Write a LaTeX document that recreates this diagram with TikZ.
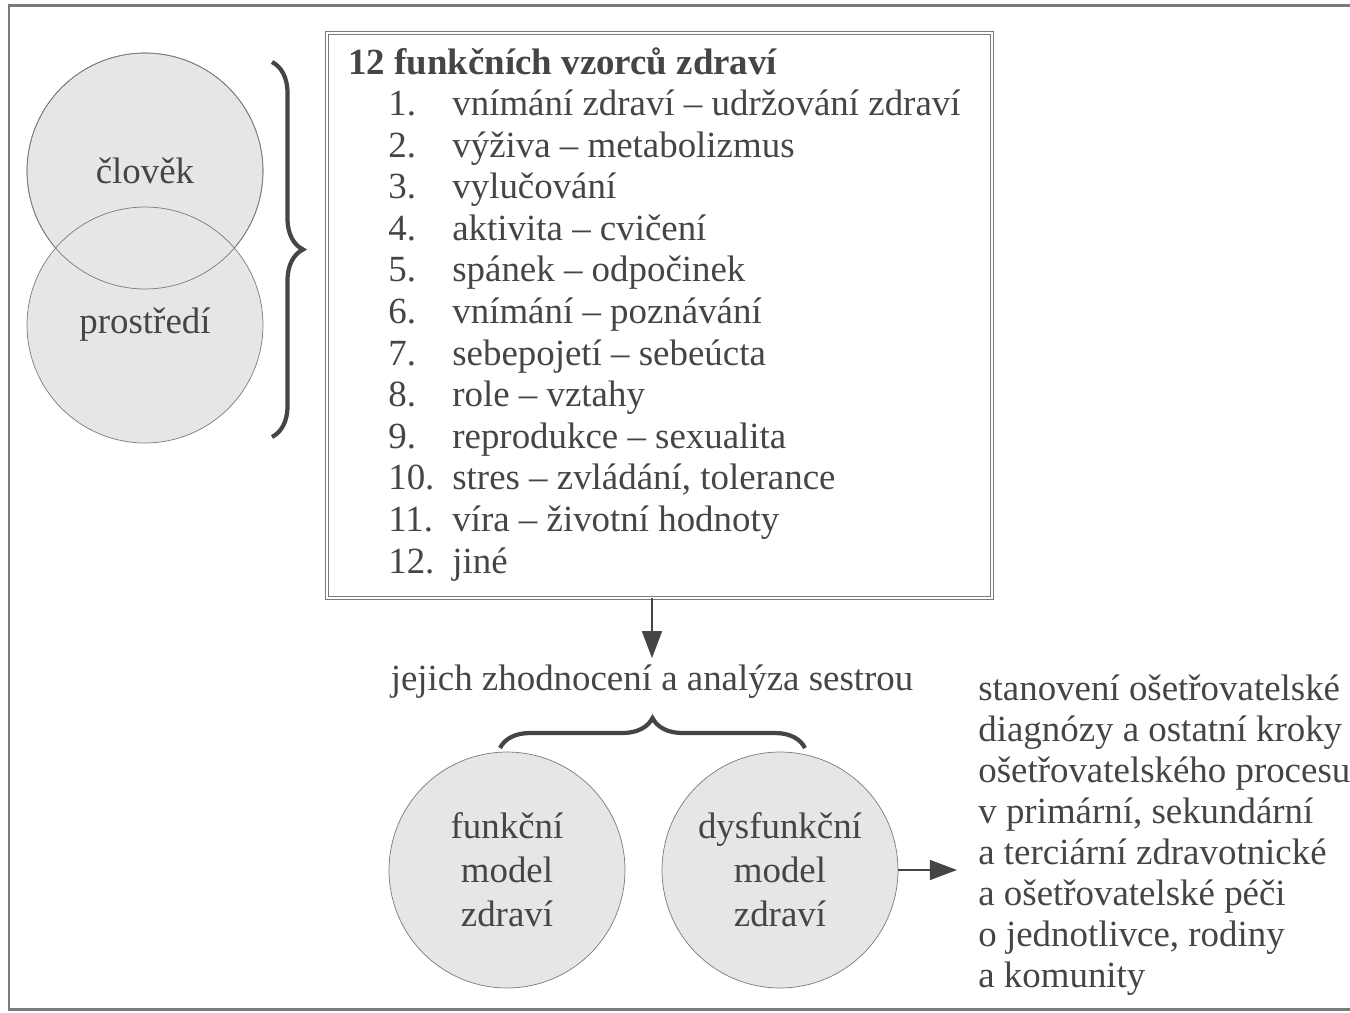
\documentclass[tikz,border=0pt]{standalone}
\usepackage{fontspec}
\setmainfont{Liberation Serif}
\usetikzlibrary{arrows.meta,decorations.pathreplacing,positioning}
\definecolor{inkgray}{HTML}{454545}
\definecolor{linegray}{HTML}{7A7A7A}
\definecolor{fillgray}{HTML}{E6E6E6}

\begin{document}
\begin{tikzpicture}[x=0.02cm,y=-0.02cm,
	font=\fontsize{21}{25}\selectfont,text=inkgray,
	kruh/.style={shape=circle,draw=linegray,fill=fillgray,minimum size=4.72cm,inner sep=0pt,align=center},
	cislo/.style={anchor=base west,inner sep=0pt},
	sipka/.style={draw=inkgray,line width=0.8pt,-{Triangle[width=0.4cm,length=0.54cm]}},
	zavorka/.style={draw=inkgray,line width=2.4pt,decorate,decoration={brace,amplitude=#1}}]
	\useasboundingbox (0,0) rectangle (1350,1012);
	% ramecek
	\draw[linegray,line width=1.7pt] (1350,5) -- (9,5) -- (9,1009) -- (1350,1009);
	% clovek a prostredi
			\node (clovek) at(145,171)[kruh]{člověk};
			\node (prostredi) at(145,325)[kruh]{prostředí};
	\draw[linegray] (clovek.center) circle[radius=2.36cm];
	\draw[zavorka=0.62cm] (272,62) -- (272,437);
	% seznam vzorcu
			\node (vzorce) at(659.5,315.5)[draw=linegray,double,double distance=1.5pt,line width=0.5pt,minimum width=13.3cm,minimum height=11.3cm]{};
			\node (nadpis) at(348,74)[cislo,font=\fontsize{21}{25}\selectfont\bfseries]{12 funkčních vzorců zdraví};
			\node (c1) at(388,115)[cislo]{1.};   \node (v1) at(452,115)[cislo]{vnímání zdraví – udržování zdraví};
			\node (c2) at(388,157)[cislo]{2.};   \node (v2) at(452,157)[cislo]{výživa – metabolizmus};
			\node (c3) at(388,198)[cislo]{3.};   \node (v3) at(452,198)[cislo]{vylučování};
			\node (c4) at(388,240)[cislo]{4.};   \node (v4) at(452,240)[cislo]{aktivita – cvičení};
			\node (c5) at(388,281)[cislo]{5.};   \node (v5) at(452,281)[cislo]{spánek – odpočinek};
			\node (c6) at(388,323)[cislo]{6.};   \node (v6) at(452,323)[cislo]{vnímání – poznávání};
			\node (c7) at(388,365)[cislo]{7.};   \node (v7) at(452,365)[cislo]{sebepojetí – sebeúcta};
			\node (c8) at(388,406)[cislo]{8.};   \node (v8) at(452,406)[cislo]{role – vztahy};
			\node (c9) at(388,448)[cislo]{9.};   \node (v9) at(452,448)[cislo]{reprodukce – sexualita};
			\node (c10) at(388,489)[cislo]{10.}; \node (v10) at(452,489)[cislo]{stres – zvládání, tolerance};
			\node (c11) at(388,531)[cislo]{11.}; \node (v11) at(452,531)[cislo]{víra – životní hodnoty};
			\node (c12) at(388,573)[cislo]{12.}; \node (v12) at(452,573)[cislo]{jiné};
	% hodnoceni
			\node (analyza) at(652,690)[anchor=base]{jejich zhodnocení a analýza sestrou};
	\draw[sipka] (vzorce.south -| analyza) -- (analyza.north);
	\draw[zavorka=0.6cm] (500,748) -- (805,748);
			\node (funkcni) at(507,870)[kruh]{funkční\\model\\zdraví};
			\node (dysfunkcni) at(780,870)[kruh]{dysfunkční\\model\\zdraví};
			\node (kroky) at(978,674)[anchor=north west,inner sep=0pt,align=left,font=\fontsize{21}{23.4}\selectfont]{stanovení ošetřovatelské\\diagnózy a ostatní kroky\\ošetřovatelského procesu\\v primární, sekundární\\a terciární zdravotnické\\a ošetřovatelské péči\\o jednotlivce, rodiny\\a komunity};
	\draw[sipka,shorten >=15\pgflinewidth] (dysfunkcni.east) -- (dysfunkcni.east -| kroky.west);
\end{tikzpicture}
\end{document}
